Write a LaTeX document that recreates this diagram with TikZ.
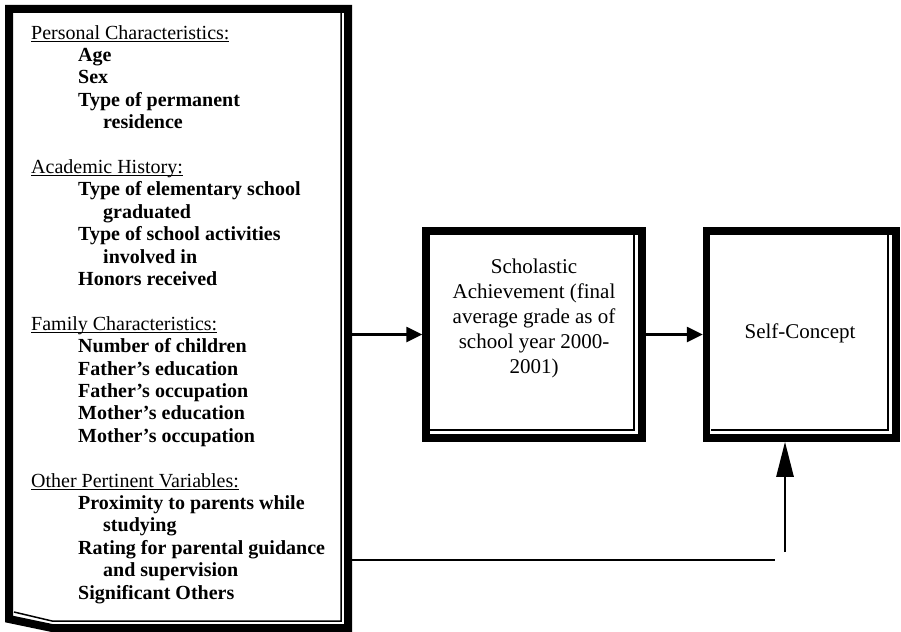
\documentclass[tikz,border=0pt]{standalone}
\usepackage{fontspec}
\setmainfont{Liberation Serif}
\usetikzlibrary{arrows.meta,calc}
\newcommand\hdr[1]{\setbox0\hbox{#1}\rlap{\rule[-3pt]{\wd0}{1.3pt}}\box0}
\newcommand\itm[1]{\hspace*{47pt}\textbf{#1}}
\newcommand\cnt[1]{\hspace*{72pt}\textbf{#1}}
\begin{document}
\begin{tikzpicture}[x=1pt,y=-1pt,
  frame/.style={draw, line width=7.5pt, inner sep=0pt, outer sep=0pt},
  thinln/.style={line width=1.5pt},
  arr/.style={line width=2.6pt, -{Triangle[length=16pt,width=15pt]}},
  uparr/.style={line width=2.6pt, -{Triangle[length=35pt,width=17pt]}},
  conn/.style={line width=2.6pt},
  bigtxt/.style={font=\fontsize{21}{25}\selectfont, inner sep=0pt, align=center}
]
\useasboundingbox (0,0) rectangle (901,631);
\fill[white] (0,0) rectangle (901,631);

% left box
\node[minimum width=339pt, minimum height=619pt, inner sep=0pt, outer sep=4pt] (lb) at (178.5,318.5) {};
\draw[line width=8pt, line join=miter] (9,619) -- (9,9) -- (348,9) -- (348,628) -- (52,628) -- cycle;
\draw[thinln] (341,13) -- (341,621) -- (52,621) -- (14,612);

\node[anchor=north west, align=left, inner sep=0pt, font=\fontsize{20}{22.4}\selectfont] (lbtext) at (31,25) {%
\hdr{Personal Characteristics:}\\
\itm{Age}\\
\itm{Sex}\\
\itm{Type of permanent}\\
\cnt{residence}\\[22.4pt]
\hdr{Academic History:}\\
\itm{Type of elementary school}\\
\cnt{graduated}\\
\itm{Type of school activities}\\
\cnt{involved in}\\
\itm{Honors received}\\[22.4pt]
\hdr{Family Characteristics:}\\
\itm{Number of children}\\
\itm{Father’s education}\\
\itm{Father’s occupation}\\
\itm{Mother’s education}\\
\itm{Mother’s occupation}\\[22.4pt]
\hdr{Other Pertinent Variables:}\\
\itm{Proximity to parents while}\\
\cnt{studying}\\
\itm{Rating for parental guidance}\\
\cnt{and supervision}\\
\itm{Significant Others}};

% middle box
\node[frame, minimum width=216pt, minimum height=207pt] (sa) at (534,334.5) {};
\draw[thinln] ([shift={(-8,4)}]sa.north east) -- ([shift={(-8,-8)}]sa.south east) -- ([shift={(4,-8)}]sa.south west);
\node[bigtxt] (satext) at (534,318) {Scholastic\\Achievement (final\\average grade as of\\school year 2000-\\2001)};

% right box
\node[frame, minimum width=189.5pt, minimum height=207pt] (sc) at (801.25,334.5) {};
\draw[thinln] ([shift={(-8,4)}]sc.north east) -- ([shift={(-8,-8)}]sc.south east) -- ([shift={(4,-8)}]sc.south west);
\node[bigtxt] (sctext) at (800,333) {Self-Concept};

% connectors
\draw[arr, shorten >=3.75pt] (lb.east |- sa.west) -- (sa.west);
\draw[arr, shorten <=3.75pt, shorten >=3.75pt] (sa.east) -- (sc.west);
\coordinate (lend) at (775,560);
\coordinate (ustart) at (785,552);
\draw[conn] (lb.east |- lend) -- (lend);
\draw[uparr, shorten >=3.75pt] (ustart) -- (ustart |- sc.south);
\end{tikzpicture}
\end{document}
